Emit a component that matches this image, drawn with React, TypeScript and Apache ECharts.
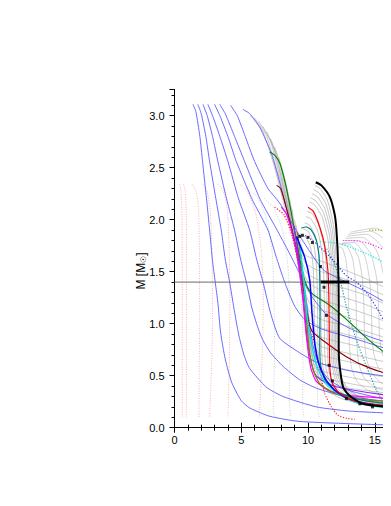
import React, { useEffect, useRef } from "react";
import * as echarts from "echarts";

type Pt = [number, number];

// ---- Tick / axis values ----
const xMin = 0;
const xMax = 20;
const xInterval = 5;
const xLabelLimit = 16; // labels beyond this are outside the picture
const yMin = 0;
const yMax = 3.25;
const yInterval = 0.5;
const yMinorInterval = 0.1;
const refMass = 1.4;

// ---- Blue solid family ----
const blueCurves: Pt[][] = [
  [[1.38,3.11],[1.6,3.04],[1.9,2.8],[2.1,2.56],[2.4,2.2],[2.63,1.9],[2.85,1.6],[3.05,1.4],[3.25,1.2],[3.45,0.92],[3.8,0.66],[4.3,0.43],[5.0,0.26],[5.63,0.19],[7.13,0.11],[9.38,0.06],[16.2,0.026],[20.5,0.02]],
  [[1.75,3.11],[2.0,3.02],[2.35,2.8],[2.63,2.56],[3.1,2.2],[3.5,1.9],[3.8,1.62],[4.13,1.4],[4.45,1.15],[4.8,0.9],[5.2,0.7],[5.63,0.57],[6.88,0.39],[8.13,0.3],[10.63,0.2],[13.1,0.16],[16.2,0.14],[20.5,0.12]],
  [[2.13,3.11],[2.45,3.0],[2.85,2.8],[3.25,2.56],[3.9,2.2],[4.5,1.9],[4.95,1.62],[5.38,1.4],[5.8,1.15],[6.25,0.96],[6.63,0.84],[7.2,0.72],[8.13,0.59],[9.38,0.46],[10.63,0.38],[12.5,0.31],[16.2,0.25],[20.5,0.22]],
  [[2.5,3.11],[2.85,3.0],[3.4,2.8],[4.0,2.56],[4.8,2.2],[5.63,1.9],[6.15,1.62],[6.63,1.4],[7.2,1.1],[7.88,0.86],[9.38,0.72],[10.63,0.63],[13.0,0.55],[16.2,0.49],[20.5,0.45]],
  [[3.0,3.11],[3.4,3.0],[4.0,2.8],[4.63,2.56],[5.8,2.2],[7.0,1.9],[7.6,1.65],[8.25,1.4],[9.0,1.17],[9.75,1.04],[11.0,0.95],[13.9,0.84],[16.2,0.75],[20.5,0.68]],
  [[3.38,3.11],[3.8,3.02],[4.5,2.8],[5.25,2.56],[6.4,2.2],[7.6,1.92],[8.6,1.68],[9.5,1.45],[10.3,1.26],[11.3,1.1],[12.9,0.97],[14.5,0.88],[16.2,0.81],[20.5,0.7]],
  [[4.2,3.1],[4.7,3.0],[5.3,2.8],[6.0,2.56],[7.0,2.3],[7.88,2.16],[9.5,1.82],[11.13,1.52],[12.88,1.4],[14.5,1.3],[16.2,1.18],[20.5,1.0]],
  [[5.13,3.06],[5.63,3.02],[6.38,2.89],[7.25,2.64],[8.0,2.3],[8.7,1.95],[9.2,1.7],[9.6,1.45],[9.9,1.2],[10.15,0.95],[10.45,0.75],[10.9,0.58],[11.6,0.46],[12.8,0.37],[14.5,0.31],[16.2,0.27],[20.5,0.23]],
];

// ---- Light red dotted family (left) ----
const redDottedCurves: Pt[][] = [
  [[0.38,2.34],[0.48,2.28],[0.55,2.1],[0.58,1.5],[0.58,0.8],[0.58,0.1]],
  [[0.68,2.34],[0.8,2.28],[0.88,2.1],[0.9,1.5],[0.9,0.8],[0.88,0.1]],
  [[1.33,2.34],[1.6,2.28],[1.8,2.1],[1.87,1.7],[1.88,1.0],[1.85,0.5],[1.83,0.1]],
  [[2.13,2.34],[2.45,2.27],[2.7,2.05],[2.82,1.6],[2.85,1.0],[2.75,0.5],[2.63,0.1]],
  [[3.25,2.34],[3.65,2.28],[3.95,2.1],[4.1,1.7],[4.15,1.2],[4.1,0.6],[4.0,0.1]],
  [[4.9,2.34],[5.5,2.26],[6.1,2.05],[6.5,1.7],[6.65,1.3],[6.6,0.8],[6.45,0.35],[6.33,0.1]],
];

// ---- Light gray dotted family ----
const grayDottedCurves: Pt[][] = [
  [[5.4,2.3],[6.2,2.22],[6.9,2.0],[7.3,1.7],[7.45,1.3],[7.5,0.8],[7.45,0.4],[7.4,0.15],[7.6,0.1]],
  [[6.6,2.22],[7.4,2.12],[8.1,1.9],[8.5,1.55],[8.65,1.1],[8.65,0.6],[8.6,0.25],[8.7,0.1]],
  [[7.6,2.12],[8.4,2.0],[9.0,1.75],[9.4,1.4],[9.6,0.95],[9.62,0.5],[9.6,0.2],[9.7,0.1]],
  [[8.4,2.0],[9.2,1.88],[9.8,1.62],[10.3,1.25],[10.6,0.8],[10.7,0.4],[10.75,0.15],[10.9,0.1]],
];

// ---- Gray solid fan (steep branch, fanning tails) ----
const grayFanCurves: Pt[][] = [
  [[5.7,3.0],[6.6,2.85],[7.5,2.5],[8.4,2.05],[9.1,1.8],[9.8,1.66],[11,1.6],[12.5,1.53],[14.2,1.44],[16.2,1.32],[18.5,1.12],[21,0.9]],
  [[6.0,2.98],[6.9,2.8],[7.8,2.42],[8.6,2.0],[9.3,1.72],[9.9,1.57],[11,1.5],[12.5,1.44],[14.2,1.36],[16.2,1.24],[18.5,1.05],[21,0.85]],
  [[6.3,2.95],[7.2,2.75],[8.0,2.35],[8.8,1.92],[9.4,1.65],[9.95,1.48],[11,1.41],[12.5,1.35],[14.2,1.28],[16.2,1.16],[18.5,0.98],[21,0.8]],
  [[6.6,2.9],[7.4,2.7],[8.2,2.28],[8.9,1.86],[9.5,1.55],[10.0,1.4],[11,1.32],[12.5,1.26],[14.2,1.19],[16.2,1.08],[18.5,0.92],[21,0.75]],
  [[6.9,2.85],[7.6,2.63],[8.3,2.22],[9.0,1.8],[9.55,1.48],[10.05,1.3],[11,1.23],[12.5,1.17],[14.2,1.1],[16.2,1.0],[18.5,0.86],[21,0.7]],
  [[7.2,2.78],[7.8,2.57],[8.4,2.17],[9.05,1.75],[9.6,1.4],[10.1,1.2],[11,1.13],[12.5,1.08],[14.2,1.01],[16.2,0.92],[18.5,0.8],[21,0.66]],
  [[7.5,2.7],[8.0,2.5],[8.5,2.12],[9.1,1.7],[9.65,1.33],[10.1,1.12],[11,1.04],[12.5,0.99],[14.2,0.93],[16.2,0.85],[18.5,0.74],[21,0.62]],
  [[7.8,2.6],[8.2,2.42],[8.6,2.08],[9.15,1.66],[9.7,1.26],[10.15,1.04],[11,0.96],[12.5,0.91],[14.2,0.85],[16.2,0.78],[18.5,0.69],[21,0.58]],
  [[8.0,2.5],[8.35,2.35],[8.7,2.03],[9.2,1.62],[9.75,1.2],[10.2,0.95],[11,0.87],[12.5,0.82],[14.2,0.77],[16.2,0.7],[18.5,0.62],[21,0.53]],
  [[8.2,2.4],[8.5,2.26],[8.8,1.98],[9.25,1.58],[9.8,1.14],[10.25,0.87],[11,0.78],[12.5,0.73],[14.2,0.68],[16.2,0.62],[18.5,0.56],[21,0.48]],
  [[8.4,2.3],[8.65,2.17],[8.9,1.93],[9.3,1.54],[9.85,1.08],[10.3,0.8],[11,0.7],[12.5,0.65],[14.2,0.6],[16.2,0.55],[18.5,0.5],[21,0.44]],
  [[8.6,2.2],[8.8,2.08],[9.0,1.88],[9.35,1.5],[9.9,1.02],[10.35,0.73],[11,0.62],[12.5,0.57],[14.2,0.52],[16.2,0.48],[18.5,0.44],[21,0.4]],
  [[8.8,2.1],[9.1,1.84],[9.4,1.46],[9.95,0.96],[10.4,0.66],[11,0.55],[12.5,0.5],[14.2,0.46],[16.2,0.42],[18.5,0.39],[21,0.36]],
  [[9.0,2.0],[9.2,1.8],[9.45,1.42],[10.0,0.9],[10.5,0.6],[11.1,0.49],[12.5,0.44],[14.2,0.4],[16.2,0.37],[18.5,0.34],[21,0.32]],
  [[9.1,1.95],[9.3,1.76],[9.5,1.38],[10.05,0.85],[10.55,0.55],[11.2,0.44],[12.5,0.39],[14.2,0.36],[16.2,0.33],[18.5,0.31],[21,0.29]],
];

// ---- Gray arcs with vertical branch left of the thick black curve ----
const grayArcCurves: Pt[][] = [
  [[9.55,1.85],[9.85,1.83],[10.2,1.73],[10.38,1.55],[10.45,1.3],[10.48,1.0],[10.5,0.8],[10.6,0.6],[10.9,0.45],[11.5,0.35],[12.5,0.28],[14,0.23],[16.2,0.2],[20.5,0.18]],
  [[9.65,1.91],[10.0,1.89],[10.4,1.78],[10.62,1.58],[10.7,1.3],[10.72,1.0],[10.75,0.78],[10.85,0.6],[11.1,0.46],[11.7,0.36],[12.7,0.29],[14,0.24],[16.2,0.21],[20.5,0.19]],
  [[9.75,1.97],[10.1,1.95],[10.55,1.84],[10.85,1.63],[10.95,1.35],[10.98,1.0],[11.0,0.78],[11.1,0.6],[11.35,0.46],[11.9,0.36],[12.9,0.29],[14.2,0.24],[16.2,0.21],[20.5,0.19]],
  [[9.85,2.03],[10.2,2.01],[10.7,1.9],[11.07,1.68],[11.2,1.4],[11.23,1.0],[11.25,0.75],[11.35,0.57],[11.6,0.45],[12.1,0.36],[13.0,0.29],[14.3,0.24],[16.2,0.21],[20.5,0.19]],
  [[9.92,2.08],[10.3,2.06],[10.8,1.95],[11.25,1.72],[11.4,1.45],[11.43,1.0],[11.45,0.75],[11.55,0.56],[11.8,0.44],[12.3,0.36],[13.1,0.29],[14.4,0.24],[16.2,0.21],[20.5,0.19]],
  [[10.1,2.17],[10.5,2.14],[11.05,2.03],[11.5,1.8],[11.68,1.5],[11.72,1.1],[11.74,0.8],[11.82,0.6],[12.05,0.46],[12.5,0.37],[13.3,0.3],[14.5,0.25],[16.2,0.22],[20.5,0.2]],
  [[10.2,2.21],[10.6,2.18],[11.15,2.07],[11.62,1.84],[11.8,1.52],[11.84,1.1],[11.86,0.8],[11.94,0.6],[12.17,0.47],[12.6,0.38],[13.4,0.3],[14.6,0.25],[16.2,0.22],[20.5,0.2]],
  [[10.3,2.25],[10.7,2.22],[11.25,2.11],[11.73,1.87],[11.91,1.55],[11.95,1.1],[11.97,0.8],[12.05,0.61],[12.28,0.48],[12.7,0.38],[13.5,0.31],[14.7,0.26],[16.2,0.23],[20.5,0.2]],
  [[10.4,2.29],[10.8,2.26],[11.35,2.15],[11.83,1.9],[12.01,1.57],[12.05,1.1],[12.07,0.8],[12.15,0.62],[12.38,0.48],[12.8,0.39],[13.6,0.31],[14.8,0.26],[16.2,0.23],[20.5,0.2]],
  [[10.5,2.33],[10.9,2.3],[11.45,2.19],[11.93,1.93],[12.11,1.59],[12.15,1.1],[12.17,0.8],[12.25,0.63],[12.48,0.49],[12.9,0.39],[13.7,0.31],[14.9,0.26],[16.2,0.23],[20.5,0.2]],
];

// ---- Gray arcs on the right (wide branch) ----
const grayWideCurves: Pt[][] = [
  [[12.3,1.74],[12.6,1.72],[12.85,1.6],[13.0,1.4],[13.05,1.1],[13.1,0.8],[13.25,0.58],[13.7,0.44],[14.5,0.36],[16.2,0.3],[20.5,0.25]],
  [[12.4,1.76],[12.9,1.75],[13.35,1.62],[13.55,1.4],[13.62,1.1],[13.66,0.82],[13.8,0.62],[14.2,0.48],[15,0.39],[16.2,0.34],[20.5,0.28]],
  [[12.5,1.77],[13.2,1.76],[13.8,1.63],[14.1,1.4],[14.2,1.1],[14.24,0.84],[14.38,0.66],[14.8,0.52],[15.5,0.43],[16.2,0.39],[20.5,0.31]],
  [[12.6,1.78],[13.5,1.78],[14.25,1.65],[14.62,1.42],[14.75,1.12],[14.8,0.87],[14.95,0.7],[15.35,0.56],[16.2,0.46],[20.5,0.35]],
  [[12.7,1.8],[13.8,1.8],[14.7,1.67],[15.15,1.43],[15.3,1.13],[15.35,0.9],[15.5,0.74],[15.9,0.6],[16.6,0.52],[20.5,0.4]],
  [[12.8,1.82],[14.1,1.83],[15.15,1.7],[15.68,1.45],[15.85,1.15],[15.9,0.93],[16.05,0.78],[16.5,0.65],[20.5,0.45]],
  [[12.9,1.84],[14.4,1.86],[15.6,1.73],[16.2,1.48],[16.4,1.17],[16.45,0.95],[16.6,0.8],[17.1,0.68],[20.5,0.5]],
  [[13.0,1.86],[14.7,1.89],[16.05,1.77],[16.75,1.5],[16.95,1.18],[17.0,0.96],[17.2,0.82],[20.5,0.55]],
  [[13.2,1.88],[15.0,1.92],[16.5,1.8],[17.3,1.52],[17.5,1.2],[17.6,0.98],[20.5,0.6]],
];

// ---- Coloured curves ----
const greenCurve: Pt[] = [[7.13,2.65],[7.5,2.62],[7.9,2.54],[8.3,2.35],[8.7,2.1],[9.13,1.8],[9.5,1.55],[9.8,1.4],[10.1,1.32],[10.4,1.28],[11.6,1.18],[12.9,1.04],[14.5,0.85],[16.2,0.68],[18.5,0.5],[21,0.35]];
const darkRedCurve: Pt[] = [[7.65,2.33],[7.95,2.3],[8.3,2.15],[8.8,1.9],[9.3,1.6],[9.7,1.3],[10.0,1.05],[10.3,0.93],[10.9,0.86],[12.9,0.68],[14.5,0.58],[16.2,0.51],[18.5,0.44],[21,0.38]];
const purpleCurve: Pt[] = [[8.9,1.95],[9.2,1.75],[9.6,1.3],[9.9,0.9],[10.2,0.65],[10.6,0.5],[11.5,0.42],[13,0.37],[16.2,0.31],[20.5,0.27]];
const magentaCurve: Pt[] = [[8.0,2.12],[8.4,2.05],[8.8,1.88],[9.2,1.65],[9.6,1.25],[9.9,0.85],[10.2,0.58],[10.6,0.45],[11.5,0.36],[13,0.31],[16.2,0.28],[20.5,0.25]];
const oliveCurve: Pt[] = [[9.2,1.88],[9.5,1.6],[9.8,1.2],[10.05,0.8],[10.4,0.55],[10.9,0.42],[12,0.33],[13.5,0.28],[16.2,0.25],[20.5,0.22]];
const cyanCurve: Pt[] = [[9.4,1.75],[9.7,1.4],[9.95,1.05],[10.3,0.78],[10.7,0.58],[11.2,0.45],[11.9,0.36],[12.9,0.28],[13.9,0.23],[16.2,0.19],[20.5,0.17]];
const darkBlueCurve: Pt[] = [[9.13,1.84],[9.75,1.64],[10.13,1.42],[10.3,1.1],[10.5,0.82],[10.8,0.62],[11.3,0.47],[12,0.36],[13,0.28],[14.5,0.23],[16.2,0.2],[20.5,0.18]];
const tealCurve: Pt[] = [[9.5,1.92],[9.88,1.93],[10.25,1.9],[10.63,1.8],[10.83,1.64],[10.88,1.42],[10.9,1.1],[10.88,0.8],[10.95,0.6],[11.3,0.45],[12,0.36],[13.5,0.28],[16.2,0.23],[20.5,0.2]];
const redCurve: Pt[] = [[10.0,2.12],[10.4,2.08],[10.88,1.93],[11.25,1.75],[11.5,1.5],[11.57,1.2],[11.6,0.8],[11.65,0.55],[11.85,0.42],[12.3,0.34],[13.2,0.27],[14.5,0.23],[16.2,0.21],[20.5,0.19]];
const blackCurve: Pt[] = [[10.58,2.36],[11.0,2.33],[11.63,2.22],[12.0,2.05],[12.13,1.9],[12.25,1.6],[12.3,1.2],[12.3,0.8],[12.35,0.62],[12.63,0.39],[13.1,0.31],[14.1,0.23],[16.2,0.2],[20.5,0.18]];

// ---- Dotted coloured curves ----
const tealDotted: Pt[] = [[11.4,1.72],[11.9,1.6],[12.4,1.42],[12.9,1.15],[13.25,1.0],[13.63,0.84],[14.38,0.59],[15.13,0.36],[15.88,0.2],[16.5,0.12]];
const blueDotted: Pt[] = [[9.8,1.85],[10.63,1.77],[11.88,1.61],[12.88,1.46],[13.63,1.4],[14.5,1.28],[15.38,1.1],[16.2,0.88],[17,0.6]];
const cyanDotted: Pt[] = [[10.88,1.79],[12.4,1.77],[13.5,1.72],[14.6,1.66],[16.2,1.55],[17.5,1.4],[18.5,1.1]];
const magentaDotted: Pt[] = [[12.6,1.8],[13.25,1.8],[14.6,1.77],[16.1,1.68],[17.5,1.5],[18.5,1.2]];
const oliveDotted: Pt[] = [[14.6,1.9],[15.25,1.9],[16.2,1.88],[17.5,1.8],[19,1.6]];
const redDottedInner: Pt[] = [[7.5,2.12],[8.2,2.05],[8.8,1.85],[9.4,1.5],[9.8,1.2],[10.2,0.95],[10.6,0.75],[10.88,0.55],[11.25,0.33],[11.75,0.2],[12.25,0.12],[12.88,0.09],[13.5,0.08]];

// ---- Markers and measurement ----
const blackMarkers: Pt[] = [[9.38,1.84],[9.58,1.85],[10.0,1.83],[10.33,1.78],[10.93,1.55],[11.2,1.35],[11.38,1.08],[11.58,0.6],[11.83,0.45],[12.88,0.28],[13.88,0.23],[14.83,0.2]];
const radiusBar: Pt[] = [[10.95,1.4],[13.08,1.4]];
const refLine: Pt[] = [[0,refMass],[25,refMass]];

function line(data: Pt[], color: string, width: number, type: any = "solid", z = 2, opacity = 1) {
  return {
    type: "line",
    data,
    symbol: "none",
    showSymbol: false,
    smooth: 0.2,
    silent: true,
    z,
    lineStyle: { color, width, type, opacity },
  };
}

const CHART_W = 460;
const CHART_H = 490;

export default function App() {
  const ref = useRef<HTMLDivElement>(null);

  useEffect(() => {
    if (!ref.current) return;
    const chart = echarts.init(ref.current, undefined, { renderer: "svg" });
    const font = "Liberation Sans, Arial, Helvetica, sans-serif";
    const axisCommon = {
      axisLine: { show: true, lineStyle: { color: "#000", width: 1 } },
      splitLine: { show: false },
    };

    const series: any[] = [];
    grayWideCurves.forEach((c) => series.push(line(c, "#b4b4b4", 0.6, "solid", 1)));
    grayFanCurves.forEach((c) => series.push(line(c, "#a8a8a8", 0.6, "solid", 1)));
    grayArcCurves.forEach((c) => series.push(line(c, "#a0a0a0", 0.6, "solid", 1)));
    grayDottedCurves.forEach((c) => series.push(line(c, "#c4c4c4", 0.8, [1, 1.5], 1)));
    redDottedCurves.forEach((c) => series.push(line(c, "#ff9a9a", 0.8, [1, 1.5], 1)));
    blueCurves.forEach((c) => series.push(line(c, "#5a5aff", 0.9, "solid", 2)));

    series.push(line(cyanDotted, "#00f0f0", 1.2, [1.2, 1.6], 3));
    series.push(line(magentaDotted, "#ff33ff", 1.2, [1.2, 1.6], 3));
    series.push(line(oliveDotted, "#a0a000", 1.2, [1.2, 1.6], 3));
    series.push(line(tealDotted, "#20a0a0", 1.2, [1.2, 1.6], 3));
    series.push(line(blueDotted, "#3333ff", 1.2, [1.2, 1.8], 3));
    series.push(line(redDottedInner, "#ff2020", 1.2, [1.2, 1.6], 3));

    series.push(line(greenCurve, "#008000", 1.1, "solid", 4));
    series.push(line(darkRedCurve, "#8b0000", 1.1, "solid", 4));
    series.push(line(purpleCurve, "#8a2be2", 1.2, "solid", 4));
    series.push(line(magentaCurve, "#ff00ff", 1.2, "solid", 4));
    series.push(line(oliveCurve, "#808000", 1.2, "solid", 4));
    series.push(line(tealCurve, "#008080", 1.2, "solid", 4));
    series.push(line(cyanCurve, "#00e5ee", 1.4, "solid", 4));
    series.push(line(darkBlueCurve, "#0000ff", 1.5, "solid", 4));
    series.push(line(redCurve, "#ff0000", 1.2, "solid", 5));
    series.push(line(blackCurve, "#000000", 2, "solid", 6));

    series.push({ ...line(refLine, "#6a6a6a", 1, "solid", 3), smooth: false });
    series.push({ ...line(radiusBar, "#000000", 3, "solid", 7), smooth: false });
    series.push({
      type: "scatter",
      data: blackMarkers,
      symbol: "rect",
      symbolSize: 3,
      itemStyle: { color: "#000" },
      silent: true,
      z: 8,
    });

    const gridLeft = 166.5;
    const gridWidth = 267; // 20 units * 13.35 px
    chart.setOption({
      animation: false,
      backgroundColor: "#ffffff",
      grid: { left: gridLeft, top: 81.7, bottom: 70.3, right: CHART_W - gridLeft - gridWidth, containLabel: false },
      xAxis: [
        {
          type: "value",
          position: "bottom",
          min: xMin,
          max: xMax,
          interval: xInterval,
          ...axisCommon,
          axisTick: { show: true, inside: false, length: 5, lineStyle: { color: "#000" } },
          minorTick: { show: true, splitNumber: 5, length: 3, lineStyle: { color: "#000" } },
          axisLabel: {
            color: "#000",
            fontSize: 11,
            fontFamily: font,
            margin: 7,
            formatter: (v: number) => (v < xLabelLimit ? String(v) : ""),
          },
        },
        {
          type: "value",
          position: "top",
          min: xMin,
          max: xMax,
          interval: xInterval,
          ...axisCommon,
          axisTick: { show: true, inside: false, length: 5, lineStyle: { color: "#000" } },
          minorTick: { show: true, splitNumber: 5, length: 3, lineStyle: { color: "#000" } },
          axisLabel: { show: false },
        },
      ],
      yAxis: [
        {
          type: "value",
          position: "left",
          min: yMin,
          max: yMax,
          interval: yInterval,
          ...axisCommon,
          axisTick: { show: true, inside: false, length: 5, lineStyle: { color: "#000" } },
          axisLabel: {
            color: "#000",
            fontSize: 11,
            fontFamily: font,
            margin: 10,
            formatter: (v: number) => (Math.abs(v / yInterval - Math.round(v / yInterval)) < 1e-6 ? v.toFixed(1) : ""),
          },
        },
        {
          type: "value",
          position: "left",
          min: yMin,
          max: yMax,
          interval: yMinorInterval,
          axisLine: { show: false },
          splitLine: { show: false },
          axisTick: { show: true, inside: false, length: 3, lineStyle: { color: "#000" } },
          axisLabel: { show: false },
        },
      ],
      graphic: [
        {
          type: "text",
          x: 132.5,
          y: 263,
          rotation: Math.PI / 2,
          style: {
            text: "M [M{s|☉}]",
            fill: "#000",
            font: "12px " + font,
            align: "center",
            verticalAlign: "middle",
            rich: {
              s: { fontSize: 8, fontFamily: font, fill: "#000", padding: [5, 0, 0, 0] },
            },
          },
        },
      ],
      series,
    });
    return () => chart.dispose();
  }, []);

  return (
    <div style={{ width: 383, height: CHART_H, overflow: "hidden" }}>
      <div ref={ref} style={{ width: CHART_W, height: CHART_H }} />
    </div>
  );
}
